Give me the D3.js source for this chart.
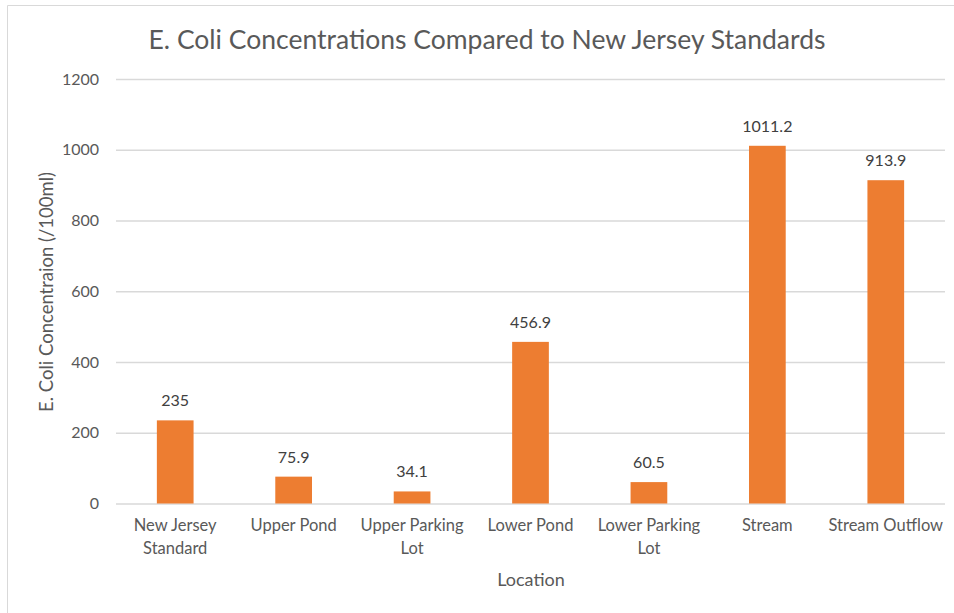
<!DOCTYPE html>
<html>
<head>
<meta charset="utf-8">
<script src="https://cdn.jsdelivr.net/npm/d3@7"></script>
<style>
  body { margin: 0; background: #fff; }
  text { font-family: Lato, "Open Sans", sans-serif; }
</style>
</head>
<body>
<div id="chart"></div>
<script>
// chart data
var locations = ["New Jersey|Standard", "Upper Pond", "Upper Parking|Lot", "Lower Pond", "Lower Parking|Lot", "Stream", "Stream Outflow"];
var ecoli = [235, 75.9, 34.1, 456.9, 60.5, 1011.2, 913.9];
var yTicks = [0, 200, 400, 600, 800, 1000, 1200];

var width = 954, height = 613;
var plotL = 116, plotR = 945, plotT = 79, plotB = 503.5;

var svg = d3.select("#chart").append("svg")
    .attr("width", width)
    .attr("height", height);

// chart border (only top and left edges show in the crop)
svg.append("path")
    .attr("d", "M7.5," + height + "V5.5H" + width)
    .attr("fill", "none")
    .attr("stroke", "#d9d9d9");

var x = d3.scaleBand()
    .domain(locations)
    .range([plotL, plotR])
    .paddingInner(0.69)
    .paddingOuter(0.345);

var y = d3.scaleLinear()
    .domain([0, 1200])
    .range([plotB, plotT]);

// gridlines + y labels
var yAxis = d3.axisLeft(y).tickValues(yTicks).tickFormat(d3.format("d"))
    .tickSize(-(plotR - plotL)).tickPadding(17);
var gy = svg.append("g")
    .attr("transform", "translate(" + plotL + ",0)")
    .call(yAxis);
gy.select(".domain").remove();
gy.selectAll(".tick line").attr("stroke", "#d9d9d9").attr("stroke-width", 1.3);
gy.selectAll(".tick text")
    .attr("fill", "#595959")
    .style("font-size", "16px");

// bars
svg.selectAll(".bar")
    .data(ecoli)
    .enter()
    .append("rect")
    .attr("class", "bar")
    .attr("x", (d, i) => x(locations[i]))
    .attr("y", d => y(d))
    .attr("width", x.bandwidth())
    .attr("height", d => y(0) - y(d))
    .attr("fill", "#ed7d31");

// value labels
svg.selectAll(".val")
    .data(ecoli)
    .enter()
    .append("text")
    .attr("class", "val")
    .attr("x", (d, i) => x(locations[i]) + x.bandwidth() / 2)
    .attr("y", d => y(d) - 14)
    .attr("text-anchor", "middle")
    .attr("fill", "#404040")
    .style("font-size", "16px")
    .text(d => d);

// category labels
var cat = svg.selectAll(".cat")
    .data(locations)
    .enter()
    .append("text")
    .attr("class", "cat")
    .attr("x", d => x(d) + x.bandwidth() / 2)
    .attr("y", 531)
    .attr("text-anchor", "middle")
    .attr("fill", "#595959")
    .style("font-size", "16.5px");
cat.selectAll("tspan")
    .data(d => d.split("|"))
    .enter()
    .append("tspan")
    .attr("x", function() { return d3.select(this.parentNode).attr("x"); })
    .attr("dy", (d, i) => i ? 23 : 0)
    .text(d => d);

// axis titles
svg.append("text")
    .attr("x", 531).attr("y", 586)
    .attr("text-anchor", "middle")
    .attr("fill", "#595959")
    .style("font-size", "18px")
    .text("Location");

svg.append("text")
    .attr("transform", "translate(53,292) rotate(-90)")
    .attr("text-anchor", "middle")
    .attr("fill", "#595959")
    .style("font-size", "18.5px")
    .text("E. Coli Concentraion (/100ml)");

// title
svg.append("text")
    .attr("x", 487).attr("y", 49)
    .attr("text-anchor", "middle")
    .attr("fill", "#595959")
    .style("font-size", "26.5px")
    .text("E. Coli Concentrations Compared to New Jersey Standards");
</script>
</body>
</html>
